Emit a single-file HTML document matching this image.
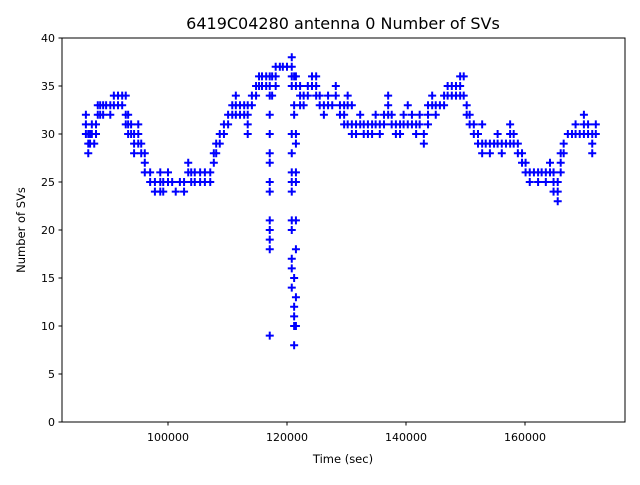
<!DOCTYPE html>
<html><head><meta charset="utf-8"><style>
body{margin:0;background:#fff;}
svg text{font-family:"DejaVu Sans","Liberation Sans",sans-serif;fill:#000;}
</style></head><body>
<svg id="chart" width="640" height="480" viewBox="0 0 640 480" xmlns="http://www.w3.org/2000/svg">
<rect width="640" height="480" fill="#fff"/>
<text x="343" y="29" font-size="16" text-anchor="middle">6419C04280 antenna 0 Number of SVs</text>
<g id="marks"></g>
<rect x="62" y="38" width="563" height="384" fill="none" stroke="#000" stroke-width="1"/>
<g id="axes"></g>
<text x="343" y="463" font-size="11.5" text-anchor="middle">Time (sec)</text>
<text x="0" y="0" font-size="11.5" text-anchor="middle" transform="translate(25,230) rotate(-90)">Number of SVs</text>
</svg>
<script>
const timesK = [86.2,86.6,86.9,87.2,87.6,87.9,88.2,88.6,89.1,89.6,90.3,90.9,91.6,92.3,92.9,93.3,93.8,94.3,95.0,95.5,96.1,97.0,97.8,98.7,99.2,100.0,100.7,101.3,102.0,102.7,103.4,103.9,104.5,105.4,106.2,107.1,107.7,108.1,108.7,109.4,110.1,110.8,111.4,112.1,112.8,113.4,114.1,114.8,115.3,115.8,116.5,117.1,117.5,118.1,118.8,119.3,120.0,120.8,121.2,121.5,122.2,122.8,123.5,124.2,124.9,125.5,126.2,126.9,127.6,128.2,128.9,129.6,130.2,130.9,131.6,132.3,132.9,133.6,134.3,134.9,135.6,136.3,137.0,137.6,138.3,139.0,139.6,140.3,141.0,141.7,142.3,143.0,143.7,144.4,145.0,145.7,146.4,147.0,147.7,148.4,149.1,149.7,150.2,150.7,151.4,152.1,152.8,153.4,154.1,154.8,155.4,156.1,156.8,157.5,158.1,158.8,159.5,160.1,160.8,161.5,162.2,162.8,163.5,164.2,164.8,165.5,166.0,166.5,167.2,167.9,168.5,169.2,169.9,170.6,171.3,171.9];
const svValues = [[32,31,30],[30,29,28],[29,30],[31,30],[29],[30,31],[32,33],[32,33],[33,32],[33],[33,32],[34,33],[34,33],[34,33],[34,32,31],[32,31,30],[31,30],[30,29,28],[30,29,31],[29,28],[28,27,26],[26,25],[25,24],[26,25,24],[24,25],[25,26],[25],[24],[25],[24,25],[26,27],[26,25],[26,25],[26,25],[26,25],[26,25],[28,27],[29,28],[30,29],[31,30],[32,31],[33,32],[33,32,34],[33,32],[33,32],[31,30,32,33],[34,33],[35,34],[36,35],[36,35],[36,35],[36,35,34,32,30,28,27,25,24,21,20,19,18,9],[36,34],[37,36,35],[37],[37],[37],[38,37,36,35,30,28,26,25,24,21,20,17,16,14],[36,33,32,15,12,11,10,8],[36,35,30,29,26,25,21,18,13,10],[35,34,33],[34,33],[35,34],[36,35],[36,35,34],[34,33],[33,32],[33,34],[33],[34,35],[33,32],[33,32,31],[34,33,31],[33,31,30],[31,30],[31,32],[31,30],[30,31],[31,30],[32,31],[30,31],[31,32],[32,33,34],[32,31],[31,30],[31,30],[32,31],[33,31],[32,31],[31,30],[32,31],[30,29],[33,32,31],[34,33],[33,32],[33],[34,33],[35,34],[35,34],[35,34],[36,35,34],[36,34],[33,32],[32,31],[31,30],[30,29],[31,29,28],[29],[29,28],[29],[30,29],[29,28],[29],[31,30,29],[30,29],[29,28],[28,27],[27,26],[26,25],[26],[26,25],[26],[26,25],[27,26],[26,25,24],[25,24,23],[28,27,26],[29,28],[30],[30],[31,30],[30],[32,31,30],[31,30],[30,29,28],[31,30]];
const xTicks = [100000,120000,140000,160000];
const yTicks = [0,5,10,15,20,25,30,35,40];

const NS = "http://www.w3.org/2000/svg";
function xScale(t){ return 168 + (t - 100000) * 0.00595; }
function yScale(v){ return 422 - v * 9.6; }

const marks = document.getElementById('marks');
timesK.forEach((tk, i) => {
  svValues[i].forEach(v => {
    const x = xScale(tk * 1000), y = yScale(v);
    const p = document.createElementNS(NS, 'path');
    
    
    p.setAttribute('d', `M${x-4},${y}H${x+4}M${x},${y-4}V${y+4}`);
    p.setAttribute('stroke', '#0000ff');
    p.setAttribute('stroke-width', '2');
    marks.appendChild(p);
  });
});

const axes = document.getElementById('axes');
xTicks.forEach(t => {
  const x = xScale(t);
  const l = document.createElementNS(NS, 'line');
  
  
  l.setAttribute('x1', x); l.setAttribute('x2', x); l.setAttribute('y1', 422); l.setAttribute('y2', 425.5);
  l.setAttribute('stroke', '#000');
  axes.appendChild(l);
  const tx = document.createElementNS(NS, 'text');
  
  
  tx.setAttribute('x', x); tx.setAttribute('y', 441); tx.setAttribute('font-size', '11');
  tx.setAttribute('text-anchor', 'middle');
  tx.textContent = t;
  axes.appendChild(tx);
});
yTicks.forEach(v => {
  const y = yScale(v);
  const l = document.createElementNS(NS, 'line');
  
  
  l.setAttribute('x1', 58.5); l.setAttribute('x2', 62); l.setAttribute('y1', y); l.setAttribute('y2', y);
  l.setAttribute('stroke', '#000');
  axes.appendChild(l);
  const tx = document.createElementNS(NS, 'text');
  
  
  tx.setAttribute('x', 55); tx.setAttribute('y', y + 4); tx.setAttribute('font-size', '11');
  tx.setAttribute('text-anchor', 'end');
  tx.textContent = v;
  axes.appendChild(tx);
});
</script>
</body></html>
